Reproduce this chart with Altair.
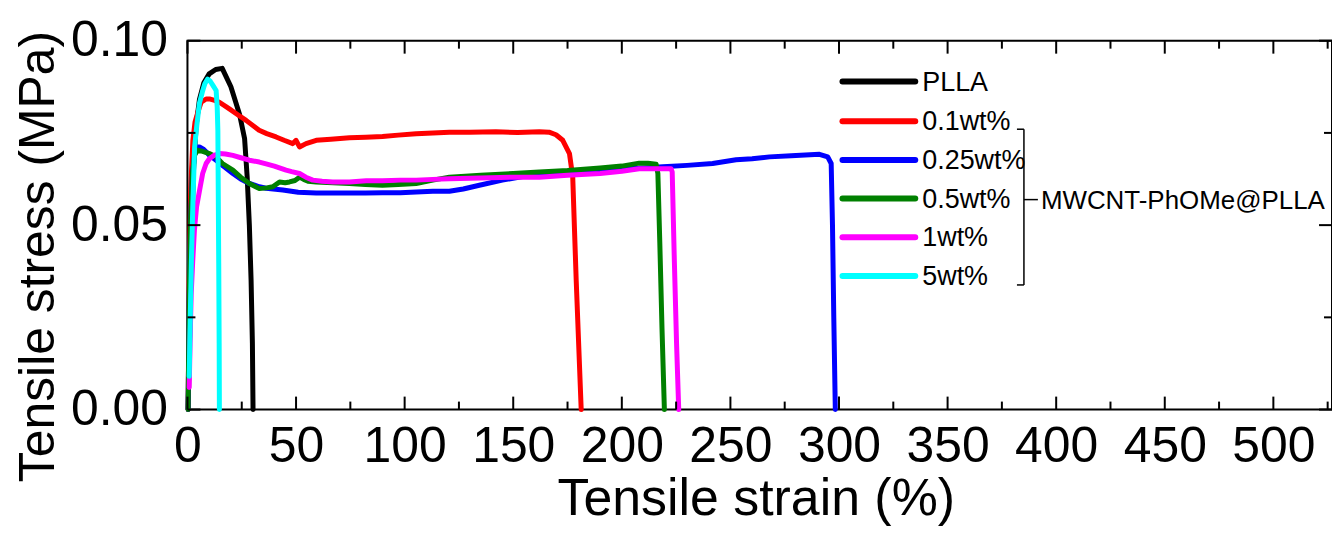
import altair as alt
import pandas as pd

# ---------------- data ----------------
series_names = ["PLLA", "0.1wt%", "0.25wt%", "0.5wt%", "1wt%", "5wt%"]
series_colors = ["#000000", "#FF0000", "#0000FF", "#008000", "#FF00FF", "#00FFFF"]
group_label = "MWCNT-PhOMe@PLLA"

plla_strain = [0.3, 1.0, 1.8, 2.8, 4.0, 5.5, 7.5, 10.0, 13.0, 16.0, 20.0, 24.0, 26.3, 27.5, 28.5, 29.3, 29.9, 30.2]
plla_stress = [0.000, 0.020, 0.045, 0.065, 0.077, 0.084, 0.0885, 0.091, 0.0922, 0.0925, 0.0875, 0.080, 0.0735, 0.063, 0.050, 0.035, 0.018, 0.000]

w01_strain = [0.3, 0.8, 1.5, 2.5, 3.5, 5.0, 6.3, 8.6, 10.1, 12.5, 14.7, 19.3, 23.0, 27.0, 33.0, 36.5, 40.8, 44.5, 48.5, 50.0, 51.6, 54.6, 59.3, 66.0, 74.6, 82.0, 89.8, 97.0, 105.3, 113.0, 120.6, 130.0, 142.0, 152.0, 162.0, 166.5, 169.7, 172.8, 175.9, 177.4, 179.0, 181.3]
w01_stress = [0.000, 0.035, 0.060, 0.073, 0.078, 0.081, 0.0833, 0.0842, 0.0842, 0.0838, 0.0833, 0.0815, 0.080, 0.0784, 0.0757, 0.0748, 0.0739, 0.073, 0.0721, 0.073, 0.0712, 0.0721, 0.073, 0.0733, 0.0737, 0.0738, 0.074, 0.0744, 0.0748, 0.075, 0.0752, 0.0752, 0.0753, 0.0751, 0.0753, 0.0752, 0.0745, 0.073, 0.0694, 0.063, 0.035, 0.000]

w025_strain = [0.3, 0.8, 1.5, 2.3, 3.3, 4.5, 5.5, 7.5, 10.0, 13.2, 16.5, 20.9, 24.5, 28.5, 33.1, 36.2, 43.9, 51.0, 59.3, 66.9, 74.6, 82.0, 89.8, 98.0, 105.3, 113.0, 120.6, 127.0, 134.4, 145.0, 157.5, 167.0, 177.3, 188.0, 200.0, 210.0, 218.8, 230.0, 241.8, 252.6, 260.0, 268.0, 278.0, 291.0, 294.8, 296.4, 297.0, 297.6, 298.3]
w025_stress = [0.000, 0.030, 0.052, 0.064, 0.069, 0.0712, 0.0712, 0.0705, 0.069, 0.0676, 0.066, 0.064, 0.0625, 0.0613, 0.0604, 0.060, 0.0595, 0.0589, 0.0587, 0.0587, 0.0587, 0.0587, 0.0588, 0.0588, 0.059, 0.0592, 0.0592, 0.0598, 0.0608, 0.0622, 0.0635, 0.064, 0.0644, 0.0648, 0.0652, 0.0655, 0.0658, 0.0662, 0.0667, 0.0677, 0.068, 0.0685, 0.0688, 0.0692, 0.0685, 0.0667, 0.050, 0.025, 0.000]

w05_strain = [0.3, 0.8, 1.5, 2.3, 3.3, 4.6, 7.0, 10.1, 13.2, 16.1, 20.9, 24.5, 28.5, 33.1, 36.5, 39.3, 42.4, 45.0, 47.0, 49.5, 51.6, 53.5, 55.5, 59.3, 67.0, 74.6, 82.0, 89.8, 97.0, 105.3, 113.0, 120.6, 135.0, 150.0, 162.0, 175.0, 190.0, 200.0, 208.0, 212.0, 215.8, 216.6, 217.5, 218.5, 219.6]
w05_stress = [0.000, 0.030, 0.052, 0.064, 0.069, 0.0703, 0.0700, 0.0694, 0.0685, 0.0667, 0.0649, 0.063, 0.0613, 0.0599, 0.0601, 0.0604, 0.0617, 0.0615, 0.0617, 0.0621, 0.063, 0.0624, 0.0619, 0.0617, 0.0615, 0.0613, 0.061, 0.0608, 0.061, 0.0613, 0.0622, 0.063, 0.0635, 0.064, 0.0644, 0.0648, 0.0655, 0.066, 0.0668, 0.0668, 0.0665, 0.064, 0.045, 0.022, 0.000]

w1_strain = [0.8, 1.2, 1.7, 2.4, 3.2, 4.2, 5.5, 7.0, 8.6, 10.1, 12.5, 14.7, 17.5, 20.9, 25.0, 28.5, 33.1, 36.2, 40.0, 45.4, 48.0, 51.6, 54.5, 57.7, 62.0, 66.9, 74.6, 82.3, 89.8, 98.0, 105.3, 113.0, 120.6, 135.0, 150.0, 162.0, 175.0, 190.0, 200.0, 208.0, 215.0, 222.7, 223.2, 224.2, 225.2, 226.2]
w1_stress = [0.006, 0.018, 0.031, 0.040, 0.0486, 0.055, 0.0592, 0.064, 0.0667, 0.068, 0.069, 0.0694, 0.0693, 0.0689, 0.0682, 0.0676, 0.0671, 0.0666, 0.066, 0.0649, 0.0645, 0.064, 0.063, 0.0622, 0.0619, 0.0617, 0.0617, 0.062, 0.062, 0.0622, 0.0622, 0.0624, 0.0626, 0.0628, 0.063, 0.063, 0.0635, 0.064, 0.0646, 0.0653, 0.0653, 0.0653, 0.0644, 0.040, 0.018, 0.000]

w5_strain = [0.8, 1.3, 1.8, 2.5, 3.3, 4.3, 5.5, 6.8, 8.0, 9.3, 10.5, 11.8, 13.2, 13.7, 14.0, 14.4, 14.6, 14.7]
w5_stress = [0.009, 0.025, 0.040, 0.056, 0.0712, 0.077, 0.083, 0.086, 0.0883, 0.0896, 0.089, 0.0878, 0.0865, 0.082, 0.0757, 0.0397, 0.018, 0.000]

x_ticks_major = list(range(0, 501, 50))
x_ticks_minor = list(range(25, 526, 50))
y_ticks_major = [0.0, 0.05, 0.10]
y_ticks_minor = [0.025, 0.075]

# ---------------- layout / style ----------------
X_DOMAIN = [0, 527]
Y_DOMAIN = [0, 0.10]
W, H = 1148, 370
FONT = "Liberation Sans"
MAJ, MIN = 13, 8

xscale = alt.Scale(domain=X_DOMAIN, nice=False, zero=False)
yscale = alt.Scale(domain=Y_DOMAIN, nice=False, zero=False)

x_axis = alt.Axis(values=x_ticks_major, title="Tensile strain (%)", grid=False, domain=False,
                  ticks=False, tickSize=0, labelFont=FONT, labelFontSize=50, labelColor="black",
                  labelPadding=12, labelFlush=False, labelOverlap=False,
                  titleFont=FONT, titleFontSize=52, titleFontWeight="normal", titleColor="black",
                  titleX=W / 2 - 4, titleY=105, titleBaseline="alphabetic", titleAlign="center")
y_axis = alt.Axis(values=y_ticks_major, format=".2f", title="Tensile stress (MPa)", grid=False,
                  domain=False, ticks=False, tickSize=0, labelFont=FONT, labelFontSize=50,
                  labelColor="black", labelPadding=20, labelFlush=False, labelOverlap=False,
                  titleFont=FONT, titleFontSize=50, titleFontWeight="normal", titleColor="black",
                  titleX=-149, titleY=216, titleAngle=-90, titleAlign="center",
                  titleBaseline="middle")

all_series = [
    (plla_strain, plla_stress),
    (w01_strain, w01_stress),
    (w025_strain, w025_stress),
    (w05_strain, w05_stress),
    (w1_strain, w1_stress),
    (w5_strain, w5_stress),
]

layers = []
for i, ((sx, sy), name, col) in enumerate(zip(all_series, series_names, series_colors)):
    df = pd.DataFrame({"strain": sx, "stress": sy, "idx": list(range(len(sx)))})
    df["series"] = name
    layers.append(
        alt.Chart(df).mark_line(color=col, strokeWidth=5, strokeJoin="round", strokeCap="round").encode(
            x=alt.X("strain:Q", scale=xscale, axis=x_axis),
            y=alt.Y("stress:Q", scale=yscale, axis=y_axis),
            order="idx:Q",
        )
    )

# inward ticks on all four sides
def xticks(vals, length):
    d = pd.DataFrame({"strain": vals})
    bottom = alt.Chart(d).mark_rule(color="black", strokeWidth=2).encode(
        x=alt.X("strain:Q", scale=xscale, axis=x_axis), y=alt.value(H), y2=alt.value(H - length))
    top = alt.Chart(d).mark_rule(color="black", strokeWidth=2).encode(
        x=alt.X("strain:Q", scale=xscale, axis=x_axis), y=alt.value(0), y2=alt.value(length))
    return [bottom, top]

def yticks(vals, length):
    d = pd.DataFrame({"stress": vals})
    left = alt.Chart(d).mark_rule(color="black", strokeWidth=2).encode(
        y=alt.Y("stress:Q", scale=yscale, axis=y_axis), x=alt.value(0), x2=alt.value(length))
    right = alt.Chart(d).mark_rule(color="black", strokeWidth=2).encode(
        y=alt.Y("stress:Q", scale=yscale, axis=y_axis), x=alt.value(W), x2=alt.value(W - length))
    return [left, right]

layers += xticks(x_ticks_major, MAJ) + xticks(x_ticks_minor, MIN)
layers += yticks(y_ticks_major, MAJ) + yticks(y_ticks_minor, MIN)

# legend (drawn as annotation)
one = pd.DataFrame({"a": [0]})
LX1, LX2, LTX = 657, 730, 737
ROW0, ROWSTEP = 41, 38.8
rows = [ROW0 + ROWSTEP * i + (0 if i == 0 else 1) for i in range(len(series_names))]
for name, col, ry in zip(series_names, series_colors, rows):
    layers.append(alt.Chart(one).mark_rule(color=col, strokeWidth=6, strokeCap="round").encode(
        x=alt.value(LX1), x2=alt.value(LX2), y=alt.value(ry)))
    layers.append(alt.Chart(one).mark_text(font=FONT, fontSize=27, align="left", baseline="middle",
                                            color="black").encode(
        x=alt.value(LTX), y=alt.value(ry + 1), text=alt.value(name)))

BX = 839
btop, bbot = rows[1] + 8, rows[5] + 9
bmid = rows[3] + 1
for (xa, xb, ya, yb) in [(BX, BX, btop, bbot), (BX - 7, BX, btop, btop), (BX - 7, BX, bbot, bbot),
                         (BX, BX + 14, bmid, bmid)]:
    layers.append(alt.Chart(one).mark_rule(color="black", strokeWidth=1.5).encode(
        x=alt.value(xa), x2=alt.value(xb), y=alt.value(ya), y2=alt.value(yb)))
layers.append(alt.Chart(one).mark_text(font=FONT, fontSize=26, align="left", baseline="middle",
                                        color="black").encode(
    x=alt.value(BX + 17), y=alt.value(bmid + 1), text=alt.value(group_label)))

chart = alt.layer(*layers).properties(
    width=W, height=H,
    autosize=alt.AutoSizeParams(type="none"),
    padding={"left": 180, "top": 32, "right": 0, "bottom": 116},
    background="white",
).configure_view(stroke="black", strokeWidth=2)

chart.save("out.html", embed_options={"renderer": "svg", "actions": False})
